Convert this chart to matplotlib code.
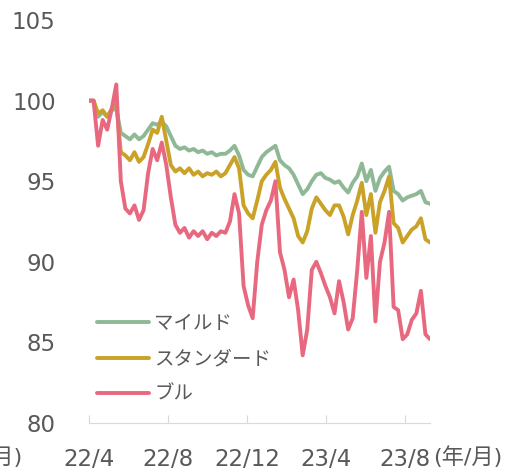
import pandas as pd
import numpy as np
import matplotlib
matplotlib.use('Agg')
import matplotlib.pyplot as plt
import matplotlib.dates as mdates

# weekly index values (start = 100)
dates = pd.date_range('2022-04-01', periods=76, freq='7D')

mild = [100.0, 100.0, 99.0, 99.3, 99.0, 99.4, 99.5, 98.0, 97.8, 97.6,
        97.9, 97.6, 97.8, 98.2, 98.6, 98.5, 98.7, 98.4, 97.8, 97.2,
        97.0, 97.1, 96.9, 97.0, 96.8, 96.9, 96.7, 96.8, 96.6, 96.7,
        96.7, 96.9, 97.2, 96.6, 95.7, 95.4, 95.3, 95.9, 96.5, 96.8,
        97.0, 97.2, 96.3, 96.0, 95.8, 95.4, 94.8, 94.2, 94.5, 95.0,
        95.4, 95.5, 95.2, 95.1, 94.9, 95.0, 94.6, 94.3, 94.9, 95.3,
        96.1, 95.0, 95.7, 94.4, 95.2, 95.6, 95.9, 94.4, 94.2, 93.8,
        94.0, 94.1, 94.2, 94.4, 93.7, 93.6]

standard = [100.0, 100.0, 99.2, 99.4, 99.0, 99.5, 99.8, 96.8, 96.6, 96.3,
            96.8, 96.2, 96.5, 97.3, 98.2, 98.0, 99.0, 97.5, 96.0, 95.6,
            95.8, 95.5, 95.8, 95.4, 95.6, 95.3, 95.5, 95.4, 95.6, 95.3,
            95.5, 96.0, 96.5, 95.8, 93.5, 93.0, 92.7, 93.8, 95.0, 95.4,
            95.7, 96.2, 94.6, 93.9, 93.3, 92.7, 91.6, 91.2, 91.9, 93.3,
            94.0, 93.6, 93.2, 92.9, 93.5, 93.5, 92.8, 91.7, 92.9, 93.8,
            94.9, 92.9, 94.2, 91.8, 93.7, 94.4, 95.3, 92.4, 92.1, 91.2,
            91.6, 92.0, 92.2, 92.7, 91.4, 91.2]

bull = [100.0, 100.0, 97.2, 98.8, 98.2, 99.5, 101.0, 95.0, 93.3, 93.0,
        93.5, 92.6, 93.2, 95.5, 97.0, 96.3, 97.4, 96.0, 94.0, 92.3,
        91.8, 92.1, 91.5, 91.9, 91.6, 91.9, 91.4, 91.8, 91.6, 91.9,
        91.8, 92.5, 94.2, 93.0, 88.5, 87.3, 86.5, 90.0, 92.3, 93.2,
        93.8, 95.0, 90.6, 89.5, 87.8, 88.9, 87.0, 84.2, 85.8, 89.5,
        90.0, 89.3, 88.5, 87.8, 86.8, 88.8, 87.5, 85.8, 86.5, 89.5,
        93.1, 89.0, 91.6, 86.3, 90.0, 91.2, 93.1, 87.2, 87.0, 85.2,
        85.5, 86.4, 86.8, 88.2, 85.5, 85.2]

labels = ['マイルド', 'スタンダード', 'ブル']
colors = ['#8fb996', '#c9a227', '#e8697f']
yticks = [80, 85, 90, 95, 100, 105]
xtick_dates = ['2022-04-01', '2022-08-01', '2022-12-01', '2023-04-01', '2023-08-01']
xtick_labels = ['22/4', '22/8', '22/12', '23/4', '23/8']

plt.rcParams.update({'font.family': ['DejaVu Sans', 'Noto Sans CJK JP'],
                     'font.size': 16})
txt = '#595959'

fig = plt.figure(figsize=(5.19, 4.71), dpi=100)
ax = fig.add_axes([0.1715, 0.1019, 0.657, 0.8556])

for vals, lab, col in zip([mild, standard, bull], labels, colors):
    ax.plot(dates, vals, color=col, lw=2.8, label=lab,
            solid_joinstyle='round', solid_capstyle='round')

ax.set_ylim(80, 105)
ax.set_yticks(yticks)
ax.set_xlim(dates[0], dates[-1])
ax.set_xticks(pd.to_datetime(xtick_dates))
ax.set_xticklabels(xtick_labels)

for s in ['top', 'right', 'left']:
    ax.spines[s].set_visible(False)
ax.spines['bottom'].set_color('#d9d9d9')
ax.tick_params(axis='y', length=0, pad=24, labelsize=16.5, labelcolor=txt)
ax.tick_params(axis='x', direction='in', length=6, color='#d9d9d9',
               pad=18, labelsize=16.5, labelcolor=txt)

fig.text(433 / 519, 1 - 457 / 471, '(年/月)', ha='left', va='center',
         fontsize=16, color=txt)
fig.text(22 / 519, 1 - 457 / 471, '(年/月)', ha='right', va='center',
         fontsize=16, color=txt)

leg = ax.legend(loc='upper left', bbox_to_anchor=(0.0, 0.29), frameon=False,
                fontsize=14, handlelength=2.7, handletextpad=0.25,
                labelspacing=0.85, borderaxespad=0)
for t in leg.get_texts():
    t.set_color(txt)

fig.savefig('out.png', dpi=100)
